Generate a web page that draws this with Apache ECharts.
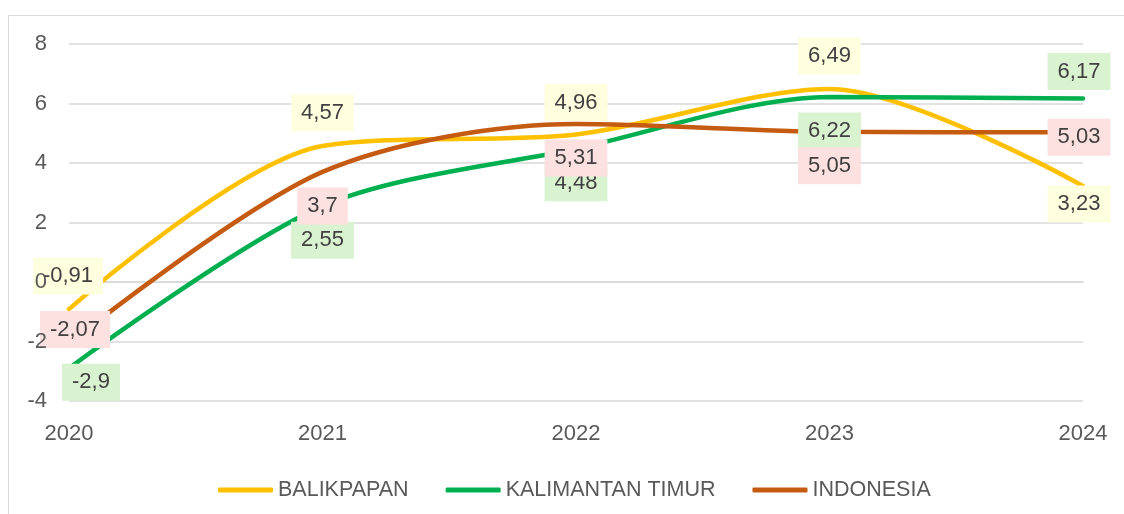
<!DOCTYPE html>
<html>
<head>
<meta charset="utf-8">
<script src="https://cdn.jsdelivr.net/npm/echarts@6/dist/echarts.min.js"></script>
<style>
  html, body { margin: 0; padding: 0; background: #fff; }
  #chart { width: 1124px; height: 514px; }
</style>
</head>
<body>
<div id="chart"></div>
<script>
// data
var years = ['2020', '2021', '2022', '2023', '2024']
var balikpapan = [-0.91, 4.57, 4.96, 6.49, 3.23]
var kaltim = [-2.9, 2.55, 4.48, 6.22, 6.17]
var indonesia = [-2.07, 3.7, 5.31, 5.05, 5.03]

// where each value box sits relative to its point (dx, dy)
var balikpapanLabelShift = [[-1, -33], [0, -33], [0, -32], [0, -33], [-4, 18]]
var kaltimLabelShift = [[22, 14], [0, 34], [0, 34], [0, 34], [-4, -27]]
var indonesiaLabelShift = [[6, -14], [0, 34], [0, 34], [0, 34], [-4, 5]]

var fontFamily = 'Liberation Sans, Arial, sans-serif'

function fmt (v) {
  return String(v).replace('.', ',')
}

function withLabels (values, shifts) {
  return values.map(function (v, i) {
    return { value: v, label: { offset: shifts[i] } }
  })
}

function lineSeries (name, color, labelBg, values, shifts) {
  return {
    name: name,
    type: 'line',
    smooth: 0.3,
    symbol: 'circle',
    symbolSize: 2,
    showSymbol: true,
    itemStyle: { color: color },
    lineStyle: { color: color, width: 4.5, cap: 'round' },
    label: {
      show: true,
      position: 'inside',
      formatter: function (p) { return fmt(p.value) },
      color: '#404040',
      fontSize: 22,
      fontFamily: fontFamily,
      lineHeight: 23,
      padding: [7, 10],
      backgroundColor: labelBg
    },
    emphasis: { disabled: true },
    data: withLabels(values, shifts)
  }
}

var axisText = { color: '#595959', fontSize: 22, fontFamily: fontFamily, margin: 22 }

var chart = echarts.init(document.getElementById('chart'))
chart.setOption({
  animation: false,
  backgroundColor: '#fff',
  graphic: [
    {
      type: 'rect',
      silent: true,
      shape: { x: 8.5, y: 15.5, width: 1200, height: 600 },
      style: { fill: 'none', stroke: '#d9d9d9', lineWidth: 1 }
    }
  ],
  grid: {
    left: 69,
    right: 41,
    top: 44,
    bottom: 113
  },
  legend: {
    left: 213,
    top: 474,
    icon: 'roundRect',
    itemWidth: 55,
    itemHeight: 5,
    itemGap: 37,
    textStyle: { color: '#595959', fontSize: 21.5, fontFamily: fontFamily },
    data: ['BALIKPAPAN', 'KALIMANTAN TIMUR', 'INDONESIA']
  },
  xAxis: {
    type: 'category',
    data: years,
    boundaryGap: false,
    axisTick: { show: false },
    axisLine: { show: true, lineStyle: { color: '#d9d9d9', width: 1.5 } },
    axisLabel: axisText
  },
  yAxis: [
    {
      // grid lines, under the series
      type: 'value',
      min: -4,
      max: 8,
      interval: 2,
      axisLine: { show: false },
      axisTick: { show: false },
      axisLabel: { show: false },
      splitLine: { lineStyle: { color: '#d9d9d9', width: 1.5 } }
    },
    {
      // tick labels, drawn over the value boxes like in the original
      type: 'value',
      position: 'left',
      offset: 0,
      z: 10,
      min: -4,
      max: 8,
      interval: 2,
      axisLine: { show: false },
      axisTick: { show: false },
      splitLine: { show: false },
      axisLabel: axisText
    }
  ],
  series: [
    lineSeries('BALIKPAPAN', '#FFC000', '#FFFFE0', balikpapan, balikpapanLabelShift),
    lineSeries('KALIMANTAN TIMUR', '#00B050', '#D9F2D0', kaltim, kaltimLabelShift),
    lineSeries('INDONESIA', '#C55A11', '#FDE0E0', indonesia, indonesiaLabelShift)
  ]
})
</script>
</body>
</html>
